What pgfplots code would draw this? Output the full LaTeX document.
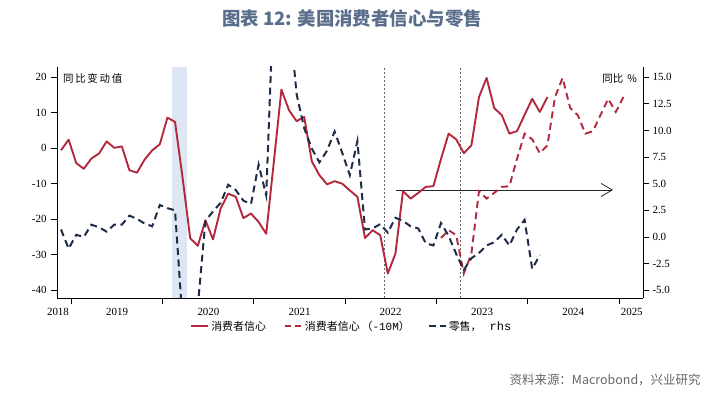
\documentclass[border=0pt]{standalone}
\usepackage{fontspec}
\setmainfont{Liberation Serif}
\newfontfamily\cjk{Noto Sans CJK SC}
\newfontfamily\mono{Liberation Mono}
\usepackage{pgfplots}
\usepackage{pgfplotstable}
\pgfplotsset{compat=1.18}
\usetikzlibrary{arrows.meta}
\definecolor{cred}{HTML}{B3283C}
\definecolor{cnavy}{HTML}{1F2C47}
\definecolor{cshade}{HTML}{DDE6F2}
\definecolor{ctitle}{HTML}{5A6E8C}
\definecolor{csrc}{HTML}{666666}

\pgfplotstableread{
k v
0 -0.6
1 2.4
2 -4.2
3 -5.8
4 -2.9
5 -1.5
6 1.9
7 0.1
8 0.5
9 -6.2
10 -6.9
11 -3.2
12 -0.6
13 1.1
14 8.6
15 7.4
16 -8.4
17 -25.4
18 -27.5
19 -20.3
20 -25.7
21 -17.0
22 -12.8
23 -13.7
24 -19.7
25 -18.4
26 -20.8
27 -24.1
28 -3.9
29 16.5
30 10.7
31 7.6
32 8.8
33 -3.7
34 -7.6
35 -10.2
36 -9.3
37 -10.0
38 -11.9
39 -13.7
40 -25.3
41 -23.1
42 -24.5
43 -35.3
44 -29.7
45 -12.1
46 -14.2
47 -12.6
48 -10.9
49 -10.7
50 -3.0
51 4.1
52 2.5
53 -1.4
54 0.8
55 14.4
56 19.8
57 11.3
58 9.3
59 4.1
60 4.8
61 9.4
62 13.9
63 10.2
64 14.4
}\conf

\pgfplotstableread{
k v
50 -25.3
51 -23.1
52 -24.5
53 -35.3
54 -29.7
55 -12.1
56 -14.2
57 -12.6
58 -10.9
59 -10.7
60 -3.0
61 4.1
62 2.5
63 -1.4
64 0.8
65 14.4
66 19.8
67 11.3
68 9.3
69 4.1
70 4.8
71 9.4
72 13.9
73 10.2
74 14.4
}\conflag

\pgfplotstableread{
k v
0 0.7
1 -1.1
2 0.2
3 0.0
4 1.15
5 0.9
6 0.5
7 1.15
8 1.15
9 2.0
10 1.7
11 1.25
12 1.0
13 3.0
14 2.7
15 2.5
16 -8.0
17 -20.0
18 -6.5
19 1.5
20 2.4
21 3.2
22 4.9
23 4.4
24 3.4
25 3.1
26 6.8
27 3.9
28 23.0
29 35.0
30 21.0
31 13.4
32 10.2
33 8.3
34 7.0
35 8.1
36 9.9
37 7.9
38 5.8
39 9.0
40 0.7
41 0.8
42 1.2
43 0.4
44 1.8
45 1.5
46 1.0
47 0.8
48 -0.6
49 -0.8
50 1.3
51 0.1
52 -1.6
53 -3.1
54 -2.0
55 -1.5
56 -0.8
57 -0.5
58 0.2
59 -0.8
60 0.7
61 1.6
62 -3.0
63 -1.7
}\retail

\begin{document}
\begin{tikzpicture}
\useasboundingbox (0,0) rectangle (719bp,396bp);
\pgfplotsset{
  common/.style={
    at={(57bp,98bp)}, anchor=south west,
    scale only axis, width=586bp, height=231bp,
    xmin=-0.53, xmax=76.58,
    axis line style={-, black, line width=0.7bp},
    tick align=outside, major tick length=6bp,
    tick style={black, line width=0.7bp},
    tick label style={font=\fontsize{11}{12}\selectfont},
    /pgf/number format/assume math mode=true,
    clip=true,
  }
}
\begin{axis}[common,
  ymin=-42.2, ymax=22.87,
  axis x line*=bottom, axis y line*=left,
  xtick={1.3,13.32,25.34,37.36,49.38,61.4,73.42},
  xticklabels={},
  extra x ticks={-0.4,7.37,19.4,31.4,43.36,55.4,67.4,75.1},
  extra x tick labels={2018,2019,2020,2021,2022,2023,2024,2025},
  extra x tick style={major tick length=0pt, tick style={draw=none},
     xticklabel style={yshift=-7bp}},
  ytick={-40,-30,-20,-10,0,10,20},
  yticklabel style={xshift=-1bp},
]
\addplot[fill=cshade, draw=none] coordinates {(14.57,-42.2) (16.54,-42.2) (16.54,22.87) (14.57,22.87)} -- cycle;
\addplot[black!60, line width=0.8bp, dash pattern=on 2bp off 2bp] coordinates {(42.54,-42.2) (42.54,22.87)};
\addplot[black!60, line width=0.8bp, dash pattern=on 2bp off 2bp] coordinates {(52.59,-42.2) (52.59,22.87)};
\addplot[black!85, line width=0.8bp, -{Straight Barb[length=11bp,width=13bp,line width=0.8bp]}] coordinates {(44.08,-11.77) (72.63,-11.77)};
\addplot[cred, line width=1.9bp, line join=round] table[x=k,y=v] {\conf};
\addplot[cred, line width=1.9bp, dash pattern=on 7bp off 4.5bp] table[x=k,y=v] {\conflag};
\node[anchor=west, inner sep=0pt] at (axis description cs:0.01,0.952) {\cjk\fontsize{10.5}{12}\selectfont 同\,比\,变\,动\,值};
\end{axis}
\begin{axis}[common,
  ymin=-5.733, ymax=15.957,
  axis y line*=right, axis x line=none,
  ytick={-5,-2.5,0,2.5,5,7.5,10,12.5,15},
  yticklabel style={/pgf/number format/.cd, fixed, fixed zerofill, precision=1},
  legend style={draw=none, fill=none, at={(axis description cs:0.503,-0.122)}, anchor=center,
     font=\cjk\fontsize{11}{12}\selectfont, legend columns=3,
     /tikz/every even column/.append style={column sep=16bp}},
  legend cell align=left,
]
\addlegendimage{cred, line width=1.9bp}
\addlegendentry{消费者信心}
\addlegendimage{cred, line width=1.9bp, dash pattern=on 6bp off 4bp}
\addlegendentry{消费者信心\,（{\mono\fontsize{11}{12}\selectfont -10M}）}
\addplot[cnavy, line width=2bp, dash pattern=on 7bp off 4.5bp] table[x=k,y=v] {\retail};
\addlegendentry{零售，\hspace{8bp}{\mono\fontsize{12}{12}\selectfont rhs}}
\node[anchor=east, inner sep=0pt] at (axis description cs:0.99,0.952) {\cjk\fontsize{10.5}{12}\selectfont 同比\hspace{4bp}\%};
\end{axis}
\node[anchor=center, text=ctitle] at (352bp,377bp) {\cjk\bfseries\fontsize{18.5}{20}\selectfont 图表 12: 美国消费者信心与零售};
\node[anchor=east, text=csrc] at (704bp,16bp) {\cjk\fontsize{12.5}{14}\selectfont 资料来源：Macrobond，兴业研究};
\end{tikzpicture}
\end{document}
